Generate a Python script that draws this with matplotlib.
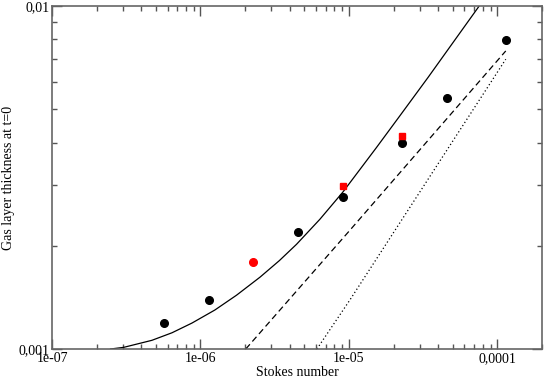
import matplotlib
matplotlib.use("Agg")
import matplotlib.pyplot as plt
from matplotlib.ticker import FixedLocator, LogLocator, NullFormatter

plt.rcParams['font.family'] = ['Liberation Serif', 'DejaVu Serif']

# measured points (black circles, red markers)
st_black = [5.71e-7, 1.14e-6, 4.56e-6, 9.12e-6, 2.28e-5, 4.55e-5, 1.14e-4]
h_black = [1.193e-3, 1.39e-3, 2.19e-3, 2.78e-3, 3.98e-3, 5.38e-3, 7.96e-3]
st_red_c = [2.27e-6]
h_red_c = [1.79e-3]
st_red = [9.12e-6, 2.28e-5]
h_red = [2.99e-3, 4.19e-3]

# model curves
st_full = [2.48e-7, 3.04e-7, 4.71e-7, 6.43e-7, 8.76e-7, 1.25e-6, 1.75e-6,
           2.52e-6, 3.4e-6, 4.44e-6, 6.38e-6, 9.12e-6, 1.535e-5, 2.2e-5,
           3.42e-5, 7.54e-5]
h_full = [1.0e-3, 1.011e-3, 1.060e-3, 1.115e-3, 1.19e-3, 1.299e-3, 1.435e-3,
          1.62e-3, 1.81e-3, 2.02e-3, 2.39e-3, 2.87e-3, 3.87e-3, 4.78e-3,
          6.2e-3, 1.0e-2]
st_dash = [2.02e-6, 1.016e-5, 1.14e-4]
h_dash = [1.0e-3, 2.22e-3, 7.40e-3]
st_dot = [6.09e-6, 1.016e-5, 1.14e-4]
h_dot = [1.0e-3, 1.39e-3, 7.0e-3]

xticks = [1e-7, 1e-6, 1e-5, 1e-4]
xticklabels = ['1e-07', '1e-06', '1e-05', '0,0001']
yticks = [1e-3, 1e-2]
yticklabels = ['0,001', '0,01']

fig = plt.figure(figsize=(5.45, 3.82), dpi=100)
ax = fig.add_axes([0.0954, 0.0864, 0.8991, 0.8976])

ax.plot(st_full, h_full, color='black', lw=0.9)
ax.plot(st_dash, h_dash, color='black', lw=0.9, dashes=(5, 3))
ax.plot(st_dot, h_dot, color='black', lw=0.9, dashes=(1, 2))
ax.plot(st_black, h_black, 'o', color='black', ms=5.5, mec='black')
ax.plot(st_red_c, h_red_c, 'o', color='red', ms=5.5, mec='red')
ax.plot(st_red, h_red, 's', color='red', ms=5, mec='red')

ax.set_xscale('log')
ax.set_yscale('log')
ax.set_xlim(1e-7, 2e-4)
ax.set_ylim(1e-3, 1e-2)

ax.xaxis.set_major_locator(FixedLocator(xticks))
ax.set_xticklabels(xticklabels)
ax.yaxis.set_major_locator(FixedLocator(yticks))
ax.set_yticklabels(yticklabels)
ax.xaxis.set_minor_locator(LogLocator(base=10, subs=range(2, 10)))
ax.yaxis.set_minor_locator(LogLocator(base=10, subs=range(2, 10)))
ax.xaxis.set_minor_formatter(NullFormatter())
ax.yaxis.set_minor_formatter(NullFormatter())

ax.tick_params(which='both', direction='in', top=True, right=True,
               labelsize=10, color='#555555', width=1)
ax.tick_params(which='major', length=7, pad=2)
ax.tick_params(which='minor', length=3.6)
for s in ax.spines.values():
    s.set_color('#666666')
    s.set_linewidth(1.2)

ax.set_xlabel('Stokes number', fontsize=10, labelpad=1)
ax.set_ylabel('Gas layer thickness at t=0', fontsize=10, labelpad=2)

fig.savefig('out.png', dpi=100)
